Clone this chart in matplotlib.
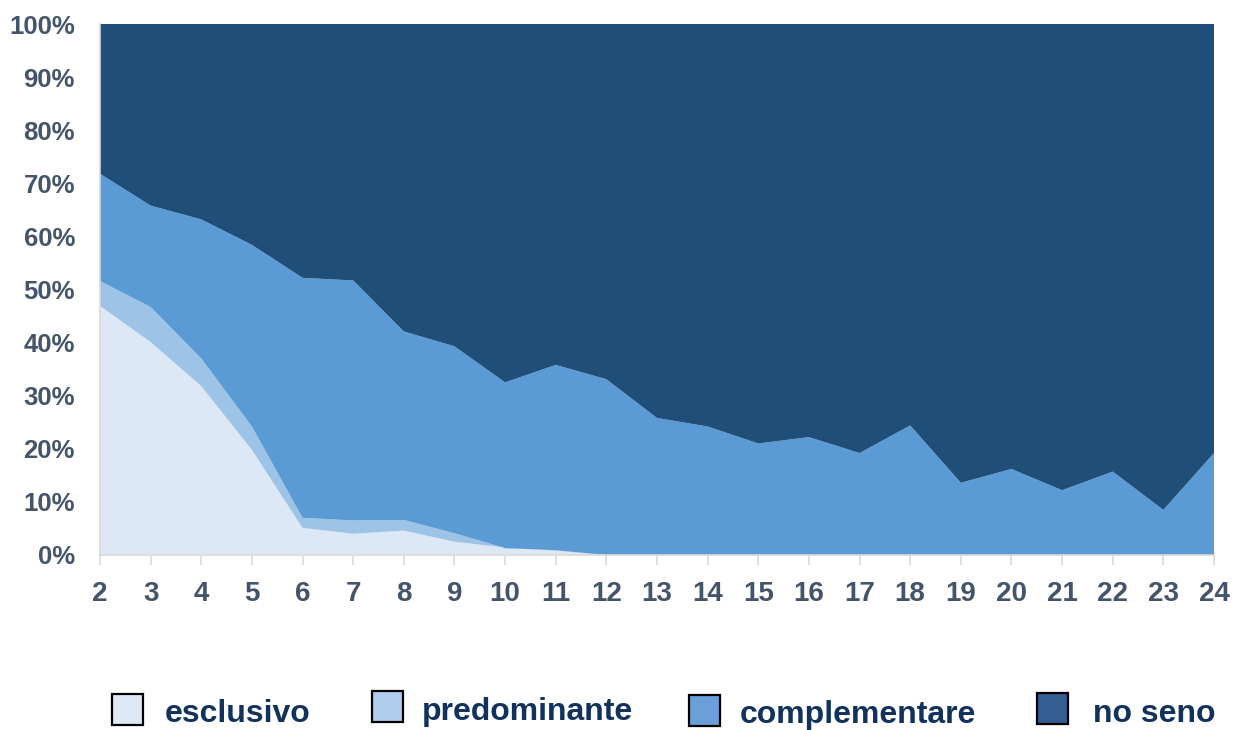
import numpy as np
import matplotlib.pyplot as plt
from matplotlib.patches import Rectangle

plt.rcParams['font.family'] = ['Liberation Sans', 'DejaVu Sans']

# mesi di vita
mesi = list(range(2, 25))

# valori cumulati (%)
esclusivo = [46.9, 40.1, 31.8, 19.8, 5.1, 4.0, 4.6, 2.5, 1.4, 0.8, 0, 0, 0,
             0, 0, 0, 0, 0, 0, 0, 0, 0, 0]
cum_predominante = [51.6, 46.7, 37.0, 24.2, 7.0, 6.5, 6.6, 4.1, 1.3, 0.9, 0, 0, 0,
                    0, 0, 0, 0, 0, 0, 0, 0, 0, 0]
cum_complementare = [71.8, 65.8, 63.2, 58.4, 52.2, 51.7, 42.1, 39.3, 32.5, 35.8, 33.1,
                     25.8, 24.2, 21.0, 22.2, 19.2, 24.4, 13.6, 16.2, 12.2, 15.7, 8.5, 19.2]

esclusivo = np.array(esclusivo)
predominante = np.array(cum_predominante) - esclusivo
complementare = np.array(cum_complementare) - np.array(cum_predominante)
no_seno = 100 - np.array(cum_complementare)

etichette = ['esclusivo', 'predominante', 'complementare', 'no seno']
colori = ['#DCE8F5', '#9DC3E6', '#5B9BD5', '#1F4E79']
colori_leg = ['#DEE9F6', '#B0CCEC', '#6A9FDA', '#335E92']

W, H = 1233, 730
fig = plt.figure(figsize=(W / 100, H / 100), dpi=100)
ax = fig.add_axes([100 / W, 1 - 555 / H, 1114 / W, 531 / H])

ax.stackplot(mesi, esclusivo, predominante, complementare, no_seno,
             colors=colori, linewidth=0)

ax.set_xlim(2, 24)
ax.set_ylim(0, 100)
ax.set_xticks(mesi)
ax.set_yticks(range(0, 101, 10))
ax.set_yticklabels([f'{v}%' for v in range(0, 101, 10)])

for s in ['top', 'right']:
    ax.spines[s].set_visible(False)
for s in ['left', 'bottom']:
    ax.spines[s].set_color('#D9D9D9')
    ax.spines[s].set_linewidth(1.2)

ax.tick_params(axis='x', colors='#D9D9D9', length=7, width=1.2, pad=12)
ax.tick_params(axis='y', colors='#D9D9D9', length=0, pad=18)
for lab in ax.get_xticklabels():
    lab.set_fontsize(20)
for lab in ax.get_yticklabels():
    lab.set_fontsize(18.5)
for lab in ax.get_xticklabels() + ax.get_yticklabels():
    lab.set_color('#44546A')
    lab.set_fontweight('bold')

# legenda disegnata a mano, come nell'originale
patch_x = [112, 372, 689, 1037]
patch_y = [694, 691, 695, 693]
testo_x = [165, 422, 740, 1093]
testo_base = [722, 720, 723, 722]
for i in range(4):
    fig.patches.append(Rectangle((patch_x[i] / W, 1 - (patch_y[i] + 31) / H),
                                 31 / W, 31 / H, transform=fig.transFigure,
                                 facecolor=colori_leg[i], edgecolor='black',
                                 linewidth=1.6))
    fig.text(testo_x[i] / W, 1 - testo_base[i] / H, etichette[i],
             fontsize=23, fontweight='bold', color='#12325E', va='baseline')

fig.savefig('out.png', dpi=100)
